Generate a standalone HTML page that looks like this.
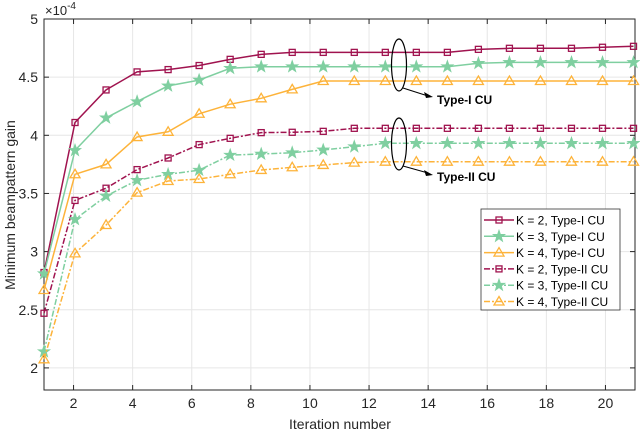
<!DOCTYPE html>
<html><head><meta charset="utf-8"><style>
body{margin:0;background:#fff}
svg{display:block;font-family:"Liberation Sans",Arial,sans-serif}
</style></head><body>
<svg id="chart" width="640" height="433" xmlns="http://www.w3.org/2000/svg">
<g id="grid"></g>
<g id="axes"></g>
<g id="series"></g>
<g>
<ellipse cx="399" cy="65" rx="7.5" ry="26" fill="none" stroke="#000" stroke-width="1.2"/>
<line x1="403" y1="88" x2="428" y2="96" stroke="#000" stroke-width="1"/>
<path d="M433,97 L424,92 L426,98 Z" fill="#000"/>
<text x="437" y="104" font-size="12" font-weight="bold">Type-I CU</text>
</g>
<g>
<ellipse cx="399" cy="144" rx="7.5" ry="26" fill="none" stroke="#000" stroke-width="1.2"/>
<line x1="403" y1="166" x2="428" y2="173" stroke="#000" stroke-width="1"/>
<path d="M433,175 L424,170 L426,176 Z" fill="#000"/>
<text x="437" y="181" font-size="12" font-weight="bold">Type-II CU</text>
</g>
<g id="legend"></g>
<text x="340" y="429" font-size="14" text-anchor="middle" fill="#262626">Iteration number</text>
<text transform="translate(15,205) rotate(-90)" font-size="14" text-anchor="middle" fill="#262626">Minimum beampattern gain</text>
<text x="45" y="15" font-size="13" fill="#262626">×10<tspan dy="-6" font-size="10">-4</tspan></text>
</svg>
<script>
const xTicks=[2,4,6,8,10,12,14,16,18,20];
const yTicks=[2,2.5,3,3.5,4,4.5,5];
const yTickLabels=["2","2.5","3","3.5","4","4.5","5"];
const iterations=[1,2.05,3.1,4.15,5.2,6.25,7.3,8.35,9.4,10.45,11.5,12.55,13.6,14.65,15.7,16.75,17.8,18.85,19.9,20.95];
const k2Type1=[2.82,4.11,4.39,4.545,4.565,4.6,4.653,4.696,4.713,4.713,4.713,4.713,4.713,4.713,4.739,4.748,4.748,4.748,4.757,4.765];
const k3Type1=[2.81,3.87,4.15,4.29,4.425,4.475,4.576,4.59,4.59,4.59,4.59,4.59,4.59,4.59,4.619,4.627,4.627,4.627,4.627,4.627];
const k4Type1=[2.67,3.665,3.75,3.985,4.03,4.185,4.267,4.318,4.395,4.467,4.467,4.467,4.467,4.467,4.467,4.467,4.467,4.467,4.467,4.467];
const k2Type2=[2.47,3.44,3.545,3.705,3.805,3.92,3.974,4.023,4.026,4.034,4.06,4.06,4.06,4.06,4.06,4.06,4.06,4.06,4.06,4.06];
const k3Type2=[2.14,3.277,3.478,3.613,3.665,3.70,3.83,3.839,3.85,3.874,3.902,3.931,3.931,3.931,3.931,3.931,3.931,3.931,3.931,3.931];
const k4Type2=[2.074,2.985,3.229,3.507,3.607,3.624,3.665,3.702,3.725,3.745,3.765,3.773,3.773,3.773,3.773,3.773,3.773,3.773,3.773,3.773];
const seriesNames=["K = 2, Type-I CU","K = 3, Type-I CU","K = 4, Type-I CU","K = 2, Type-II CU","K = 3, Type-II CU","K = 4, Type-II CU"];

const L=44,R=635,T=19,B=390,XMIN=1,XMAX=21,YMIN=1.81,YMAX=5;
const sx=v=>L+(v-XMIN)/(XMAX-XMIN)*(R-L);
const sy=v=>B-(v-YMIN)/(YMAX-YMIN)*(B-T);
const NS="http://www.w3.org/2000/svg";
function mk(tag,attrs,parent){const e=document.createElementNS(NS,tag);for(const k in attrs)e.setAttribute(k,attrs[k]);parent.appendChild(e);return e;}
const grid=document.getElementById('grid'),axes=document.getElementById('axes'),ser=document.getElementById('series'),leg=document.getElementById('legend');
xTicks.forEach(t=>{
  const g=mk('line',{x1:sx(t),x2:sx(t),y1:T,y2:B,stroke:'#e6e6e6','stroke-width':1},grid);
  
  
  mk('line',{x1:sx(t),x2:sx(t),y1:B,y2:B-5,stroke:'#262626','stroke-width':1},axes);
  mk('line',{x1:sx(t),x2:sx(t),y1:T,y2:T+5,stroke:'#262626','stroke-width':1},axes);
  const tx=mk('text',{x:sx(t),y:B+18,'font-size':14,'text-anchor':'middle',fill:'#262626'},axes);
  tx.textContent=t;
  
  
});
yTicks.forEach((t,i)=>{
  const g=mk('line',{x1:L,x2:R,y1:sy(t),y2:sy(t),stroke:'#e6e6e6','stroke-width':1},grid);
  
  
  mk('line',{x1:L,x2:L+5,y1:sy(t),y2:sy(t),stroke:'#262626'},axes);
  mk('line',{x1:R,x2:R-5,y1:sy(t),y2:sy(t),stroke:'#262626'},axes);
  const tx=mk('text',{x:L-6,y:sy(t)+5,'font-size':14,'text-anchor':'end',fill:'#262626'},axes);
  tx.textContent=yTickLabels[i];
  
  
});
mk('rect',{x:L,y:T,width:R-L,height:B-T,fill:'none',stroke:'#262626','stroke-width':1},axes);

const cols=['#a0134f','#7fcfa0','#fdb33a','#a0134f','#7fcfa0','#fdb33a'];
const marks=['sq','star','tri','sq','star','tri'];
const dashes=['','','','6,2,2,2','6,2,2,2','6,2,2,2'];
const data=[k2Type1,k3Type1,k4Type1,k2Type2,k3Type2,k4Type2];
function marker(type,x,y,c,p){
  if(type==='sq')return mk('rect',{x:x-3,y:y-3,width:6,height:6,fill:'none',stroke:c,'stroke-width':1.3},p);
  if(type==='tri')return mk('path',{d:`M${x},${y-5}L${x+5},${y+3.5}L${x-5},${y+3.5}Z`,fill:'none',stroke:c,'stroke-width':1.3},p);
  let d='';for(let k=0;k<10;k++){const r=k%2?2.6:6.5,a=-Math.PI/2+k*Math.PI/5;d+=(k?'L':'M')+(x+r*Math.cos(a)).toFixed(1)+','+(y+r*Math.sin(a)).toFixed(1);}
  return mk('path',{d:d+'Z',fill:c,stroke:c,'stroke-width':0.6},p);
}
data.forEach((arr,s)=>{
  const g=mk('g',{},ser);
  
  
  const pts=arr.map((v,i)=>sx(iterations[i]).toFixed(1)+','+sy(v).toFixed(1)).join(' ');
  const pl=mk('polyline',{points:pts,fill:'none',stroke:cols[s],'stroke-width':1.5,'stroke-dasharray':dashes[s]},g);
  
  
  arr.forEach((v,i)=>{const m=marker(marks[s],sx(iterations[i]),sy(v),cols[s],g);
    
    });
});
mk('rect',{x:481,y:209,width:139,height:101,fill:'#fff',stroke:'#333','stroke-width':0.8},leg);
seriesNames.forEach((n,s)=>{
  const y=220+s*16.3;
  const g=mk('g',{},leg);
  
  
  mk('line',{x1:484,x2:514,y1:y,y2:y,stroke:cols[s],'stroke-width':1.5,'stroke-dasharray':dashes[s]},g);
  marker(marks[s],499,y,cols[s],g);
  const t=mk('text',{x:516,y:y+4.5,'font-size':12,fill:'#000'},g);
  t.textContent=n;
});
</script>
</body></html>
